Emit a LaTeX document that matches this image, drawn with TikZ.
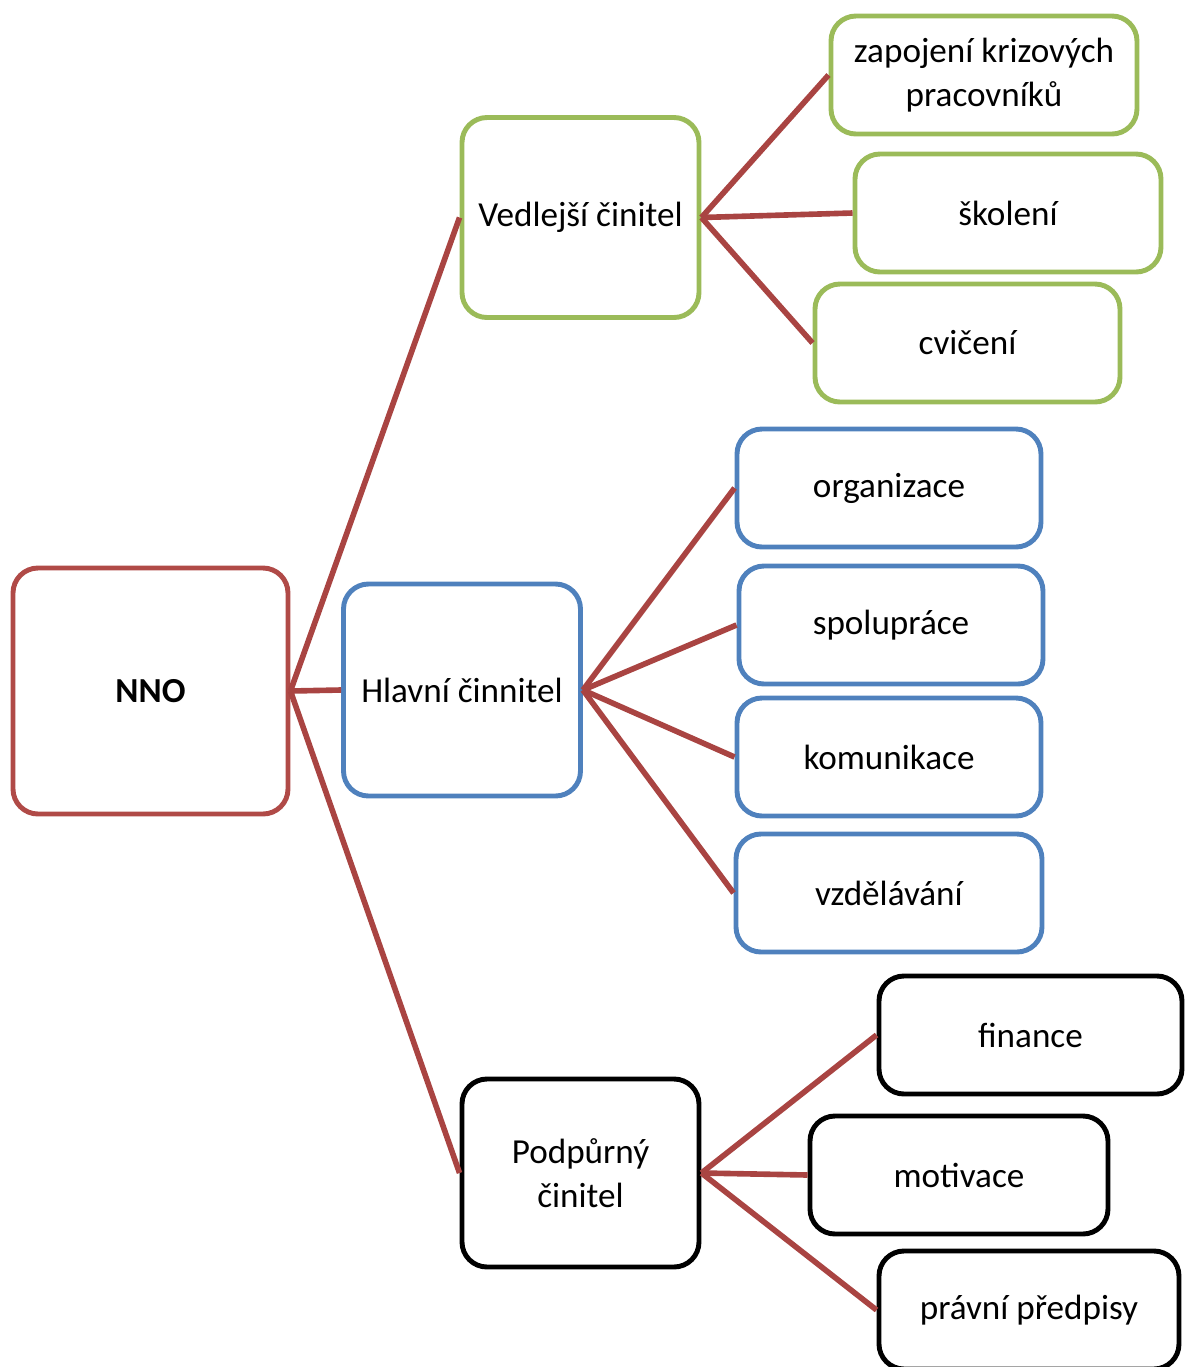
\documentclass[tikz,border=0pt]{standalone}
\usepackage{fontspec}
\setmainfont{Carlito}
\definecolor{rootred}{HTML}{B04A47}
\definecolor{linkred}{HTML}{A94442}
\definecolor{leafgreen}{HTML}{9BBB59}
\definecolor{leafblue}{HTML}{4F81BD}
\begin{document}
\begin{tikzpicture}[
        box/.style={draw, line width=1.4pt, rounded corners=0.25cm, align=center,
            font=\fontsize{10}{12.5}\selectfont, inner sep=0pt},
        rootbox/.style={box, draw=rootred, minimum width=2.75cm, minimum height=2.46cm},
        midbox/.style={box, minimum width=2.37cm, minimum height=2cm},
        leafbox/.style={box, minimum width=3.06cm, minimum height=1.18cm},
        link/.style={draw=linkred, line width=1.6pt}
    ]
        \useasboundingbox (0,0) rectangle (11.85,-13.67);

        % Draw the root and the three factors
        \node[rootbox] (nno) at (1.505,-6.91) {\textbf{NNO}};
        \node[midbox, draw=leafgreen] (ved) at (5.805,-2.175) {Vedlejší činitel};
        \node[midbox, draw=leafblue, minimum height=2.12cm] (hlav) at (4.62,-6.90) {Hlavní činnitel};
        \node[midbox, draw=black, minimum height=1.88cm] (podp) at (5.805,-11.73) {Podpůrný\\činitel};

        % Draw the leaves
        \node[leafbox, draw=leafgreen] (zap) at (9.84,-0.75) {zapojení krizových\\pracovníků};
        \node[leafbox, draw=leafgreen] (skol) at (10.08,-2.13) {školení};
        \node[leafbox, draw=leafgreen, minimum width=3.05cm] (cvic) at (9.675,-3.43) {cvičení};

        \node[leafbox, draw=leafblue, minimum width=3.04cm] (org) at (8.89,-4.88) {organizace};
        \node[leafbox, draw=leafblue, minimum width=3.04cm] (spol) at (8.91,-6.25) {spolupráce};
        \node[leafbox, draw=leafblue, minimum width=3.04cm] (kom) at (8.89,-7.57) {komunikace};
        \node[leafbox, draw=leafblue] (vzd) at (8.89,-8.93) {vzdělávání};

        \node[leafbox, draw=black, minimum width=3.03cm] (fin) at (10.305,-10.35) {finance};
        \node[leafbox, draw=black, minimum width=2.98cm] (mot) at (9.59,-11.75) {motivace};
        \node[leafbox, draw=black, minimum width=3cm] (prav) at (10.29,-13.10) {právní předpisy};

        % Draw the connectors
        \foreach \child in {ved,hlav,podp}
            \draw[link] (nno.east) -- (\child.west);
        \foreach \child in {zap,skol,cvic}
            \draw[link] (ved.east) -- (\child.west);
        \foreach \child in {org,spol,kom,vzd}
            \draw[link] (hlav.east) -- (\child.west);
        \foreach \child in {fin,mot,prav}
            \draw[link] (podp.east) -- (\child.west);
    \end{tikzpicture}
\end{document}
